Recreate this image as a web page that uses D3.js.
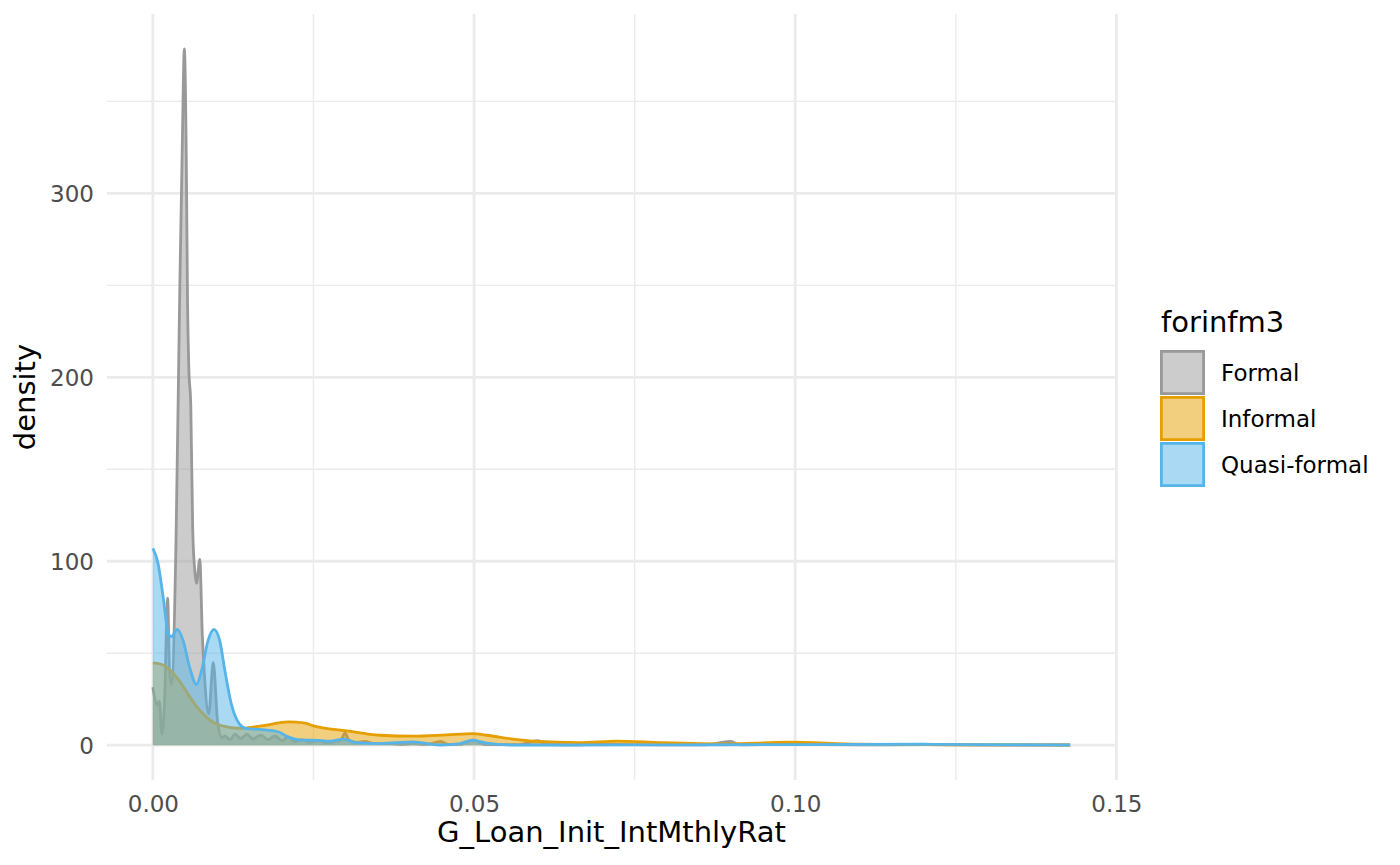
<!DOCTYPE html>
<html>
<head>
<meta charset="utf-8">
<script src="https://cdn.jsdelivr.net/npm/d3@7"></script>
<style>
  html, body { margin: 0; padding: 0; background: #ffffff; }
  svg { display: block; }
  text { font-family: "DejaVu Sans", sans-serif; }
</style>
</head>
<body>
<svg id="chart" width="1400" height="865"></svg>
<script>
// ---------------- data ----------------
const groups = ["Formal", "Informal", "Quasi-formal"];
const legendTitle = "forinfm3";
const xTitle = "G_Loan_Init_IntMthlyRat";
const yTitle = "density";

const xMajorTicks = [0, 0.05, 0.10, 0.15];
const xTickLabels = ["0.00", "0.05", "0.10", "0.15"];
const xMinorTicks = [0.025, 0.075, 0.125];
const yMajorTicks = [0, 100, 200, 300];
const yTickLabels = ["0", "100", "200", "300"];
const yMinorTicks = [50, 150, 250, 350];

const formalX = [0.0000, 0.0004, 0.0007, 0.0010, 0.0014, 0.0018, 0.0023, 0.0026, 0.0029,
  0.0036, 0.0042, 0.0046, 0.0049, 0.0052, 0.0054, 0.0056, 0.0059, 0.0062, 0.0065, 0.0068,
  0.0073, 0.0077, 0.0080, 0.0087, 0.0094, 0.0101, 0.0108,
  0.0112, 0.0120, 0.0128, 0.0137, 0.0146, 0.0156, 0.0168, 0.0179, 0.0190, 0.0201, 0.0211,
  0.0220, 0.0232, 0.0245, 0.0258, 0.0270, 0.0283, 0.0293, 0.0299, 0.0306, 0.0318, 0.0330,
  0.0345, 0.0365, 0.0385, 0.0405, 0.0425, 0.0448, 0.0460, 0.0480, 0.0499, 0.0515, 0.0540,
  0.0570, 0.0599, 0.0615, 0.0650, 0.0700, 0.0750, 0.0800, 0.0860, 0.0899, 0.0915, 0.1000,
  0.1100, 0.1200, 0.1300, 0.1428];
const formalY = [31.5, 24, 22, 24, 6, 22, 80, 40, 33,
  110, 250, 330, 378.6, 320, 240, 205, 185, 118, 96, 88,
  101, 60, 40, 17, 45, 12, 4,
  5, 3, 6, 3.5, 6, 3.5, 5.5, 3, 5, 2.5, 4.5,
  2, 3, 1.5, 2.5, 1.2, 2, 3, 6.5, 2.5, 1.5, 2,
  0.8, 1, 0.5, 0.8, 0.4, 2, 0.4, 0.5, 2.7, 0.5, 0.3,
  0.3, 2.5, 0.3, 0.2, 0.5, 0.3, 0.2, 0.2, 2, 0.2, 0.4,
  0.2, 0.3, 0.1, 0.1];

const informalX = [0.0000, 0.0013, 0.0025, 0.0037, 0.0048, 0.0058, 0.0073, 0.0093, 0.0115,
  0.0136, 0.0177, 0.0210, 0.0237, 0.0250, 0.0302, 0.0353, 0.0405, 0.0457, 0.0498, 0.0520,
  0.0561, 0.0592, 0.0665, 0.0722, 0.0790, 0.0894, 0.0987, 0.1100, 0.1200, 0.1300, 0.1428];
const informalY = [44.7, 44, 41.5, 37, 31.5, 26, 19, 12.7, 10,
  9.2, 10.9, 12.7, 12, 10.5, 7.8, 5.4, 4.9, 5.6, 6.3, 5.4,
  3.3, 2.2, 1.4, 2.2, 1.4, 0.7, 1.6, 0.5, 0.3, 0.2, 0.1];

const quasiX = [0.0000, 0.0008, 0.0016, 0.0024, 0.0029, 0.0038, 0.0047, 0.0057, 0.0068,
  0.0076, 0.0086, 0.0095, 0.0104, 0.0112, 0.0122, 0.0135, 0.0146, 0.0170, 0.0195, 0.0210,
  0.0232, 0.0250, 0.0276, 0.0296, 0.0317, 0.0354, 0.0405, 0.0447, 0.0478, 0.0498, 0.0520,
  0.0560, 0.0650, 0.0800, 0.1000, 0.1200, 0.1300, 0.1428];
const quasiY = [107, 99, 80.6, 60.8, 59, 63, 57, 42.6, 33,
  40.8, 57, 63, 57, 40.8, 22.6, 11.5, 9, 8.5, 7.3, 4.5,
  2.8, 2.8, 2.2, 3.3, 1.4, 0.9, 1.8, 0.1, 0.9, 2.7, 1.1,
  0.1, 0.1, 0.2, 0.3, 0.5, 0.3, 0.1];

const lineColors = ["#999999", "#E69F00", "#56B4E9"];
const seriesX = [formalX, informalX, quasiX];
const seriesY = [formalY, informalY, quasiY];

// ---------------- layout ----------------
const panel = { left: 107, right: 1116, top: 14, bottom: 780 };
const xMin = 0, xMax = 0.1428;
const yMax = d3.max(formalY);
const xPad = (xMax - xMin) * 0.05, yPad = yMax * 0.05;

const x = d3.scaleLinear().domain([xMin - xPad, xMax + xPad]).range([panel.left, panel.right]);
const y = d3.scaleLinear().domain([-yPad, yMax + yPad]).range([panel.bottom, panel.top]);

const svg = d3.select("#chart");

// grid
const grid = svg.append("g");
grid.selectAll(".ymin").data(yMinorTicks).join("line")
  .attr("x1", panel.left).attr("x2", panel.right)
  .attr("y1", d => y(d)).attr("y2", d => y(d))
  .attr("stroke", "#EBEBEB").attr("stroke-width", 1.4);
grid.selectAll(".xmin").data(xMinorTicks).join("line")
  .attr("y1", panel.top).attr("y2", panel.bottom)
  .attr("x1", d => x(d)).attr("x2", d => x(d))
  .attr("stroke", "#EBEBEB").attr("stroke-width", 1.4);
grid.selectAll(".ymaj").data(yMajorTicks).join("line")
  .attr("x1", panel.left).attr("x2", panel.right)
  .attr("y1", d => y(d)).attr("y2", d => y(d))
  .attr("stroke", "#EBEBEB").attr("stroke-width", 2.8);
grid.selectAll(".xmaj").data(xMajorTicks).join("line")
  .attr("y1", panel.top).attr("y2", panel.bottom)
  .attr("x1", d => x(d)).attr("x2", d => x(d))
  .attr("stroke", "#EBEBEB").attr("stroke-width", 2.8);

// densities
const area = d3.area().x(d => x(d[0])).y0(y(0)).y1(d => y(d[1])).curve(d3.curveMonotoneX);
const line = d3.line().x(d => x(d[0])).y(d => y(d[1])).curve(d3.curveMonotoneX);

groups.forEach((g, i) => {
  const pts = seriesX[i].map((v, j) => [v, seriesY[i][j]]);
  svg.append("path").datum(pts).attr("d", area)
    .attr("fill", lineColors[i]).attr("fill-opacity", 0.5).attr("stroke", "none");
  svg.append("path").datum(pts).attr("d", line)
    .attr("fill", "none").attr("stroke", lineColors[i]).attr("stroke-width", 2.8)
    .attr("stroke-linejoin", "round");
});

// axes
const xAxis = d3.axisBottom(x).tickValues(xMajorTicks)
  .tickFormat((d, i) => xTickLabels[i]).tickSize(0).tickPadding(0);
const gx = svg.append("g").attr("transform", `translate(0,${panel.bottom})`).call(xAxis);
gx.select(".domain").remove();
gx.selectAll("text").attr("y", 32).attr("dy", null)
  .attr("font-size", 23).attr("fill", "#4D4D4D").attr("font-family", "DejaVu Sans");

const yAxis = d3.axisLeft(y).tickValues(yMajorTicks)
  .tickFormat((d, i) => yTickLabels[i]).tickSize(0).tickPadding(0);
const gy = svg.append("g").attr("transform", `translate(${panel.left},0)`).call(yAxis);
gy.select(".domain").remove();
gy.selectAll("text").attr("x", -13).attr("dy", "0.365em")
  .attr("font-size", 23).attr("fill", "#4D4D4D").attr("font-family", "DejaVu Sans");

// titles
svg.append("text").attr("x", (panel.left + panel.right) / 2).attr("y", 842)
  .attr("text-anchor", "middle").attr("font-size", 29).attr("fill", "#000")
  .text(xTitle);
svg.append("text")
  .attr("transform", `translate(35,${(panel.top + panel.bottom) / 2}) rotate(-90)`)
  .attr("text-anchor", "middle").attr("font-size", 29).attr("fill", "#000")
  .text(yTitle);

// legend
const leg = svg.append("g");
leg.append("text").attr("x", 1161).attr("y", 331.5).attr("font-size", 29).attr("fill", "#000")
  .text(legendTitle);
const keyTop = [350, 396, 442];
groups.forEach((g, i) => {
  leg.append("rect").attr("x", 1161.4).attr("y", keyTop[i] + 1.4)
    .attr("width", 42.2).attr("height", 42.2)
    .attr("fill", lineColors[i]).attr("fill-opacity", 0.5)
    .attr("stroke", lineColors[i]).attr("stroke-width", 2.8);
  leg.append("text").attr("x", 1221).attr("y", keyTop[i] + 22.5).attr("dy", "0.365em")
    .attr("font-size", 23).attr("fill", "#000").text(g);
});
</script>
</body>
</html>
